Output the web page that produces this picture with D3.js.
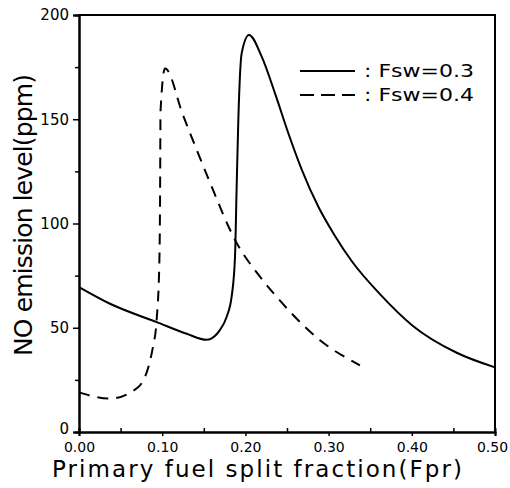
<!DOCTYPE html>
<html>
<head>
<meta charset="utf-8">
<script src="https://cdn.jsdelivr.net/npm/d3@7"></script>
<style>
  body { margin: 0; background: #fff; }
  svg { display: block; }
</style>
</head>
<body>
<div id="viz"></div>
<script>
"use strict";

// Fsw = 0.3 (solid)
const fpr03 = [0, 0.0373, 0.0934, 0.1294, 0.1534, 0.1695, 0.1775, 0.1835, 0.1875, 0.1895, 0.1915, 0.1955, 0.2043, 0.2196, 0.2356, 0.2516, 0.2676, 0.2877, 0.3077, 0.3277, 0.362, 0.401, 0.454, 0.5];
const no03  = [69.5, 61.5, 52.7, 47.1, 44.2, 49, 55.3, 65, 84, 117.6, 149.6, 181.6, 190.4, 180, 162.4, 143.3, 126, 108, 94, 82, 66, 51, 38, 31];

// Fsw = 0.4 (dashed)
const fpr04 = [0, 0.037, 0.071, 0.089, 0.0933, 0.0965, 0.0974, 0.098, 0.1034, 0.125, 0.155, 0.1893, 0.2175, 0.2416, 0.2576, 0.2897, 0.3377];
const no04  = [19, 16, 21.5, 41, 53.7, 80, 110, 154, 174.4, 152, 122, 90.8, 74.5, 63, 56, 44, 32];

const xTicks = [0, 0.1, 0.2, 0.3, 0.4, 0.5];
const xMinor = [0.05, 0.15, 0.25, 0.35, 0.45];
const yTicks = [0, 50, 100, 150, 200];
const yMinor = [25, 75, 125, 175];
const legendLabels = [": Fsw=0.3", ": Fsw=0.4"];

function initChart() {
    let width = 510;
    let height = 488;
    let left = 79, right = 495, top = 15, bottom = 432;

    let xScale = d3.scaleLinear().domain([0, 0.5]).range([left, right]);
    let yScale = d3.scaleLinear().domain([0, 200]).range([bottom, top]);

    let svg = d3.select('#viz')
                .append('svg')
                .attr('width', width)
                .attr('height', height);

    let font = "DejaVu Sans, sans-serif";

    // x axis
    let xAxis = svg.append('g')
       .attr('transform', `translate(0,${bottom})`)
       .call(d3.axisBottom(xScale).tickValues(xTicks).tickSize(4)
             .tickFormat(d3.format('.2f')).tickPadding(2));
    svg.append('g')
       .attr('transform', `translate(0,${bottom})`)
       .call(d3.axisBottom(xScale).tickValues(xMinor).tickSize(-4).tickFormat(''));

    // y axis
    let yAxis = svg.append('g')
       .attr('transform', `translate(${left},0)`)
       .call(d3.axisLeft(yScale).tickValues(yTicks).tickSize(6).tickPadding(4));
    svg.append('g')
       .attr('transform', `translate(${left},0)`)
       .call(d3.axisLeft(yScale).tickValues(yMinor).tickSize(4).tickFormat(''));

    svg.selectAll('.domain').attr('stroke', '#000').attr('stroke-width', 2);
    svg.selectAll('.tick line').attr('stroke', '#000').attr('stroke-width', 1.5);
    svg.selectAll('.tick text')
       .attr('font-family', font)
       .attr('fill', '#000');
    yAxis.selectAll('.tick text').attr('font-size', '15px');
    yAxis.selectAll('.tick text').filter(d => d === 0).attr('dy', '0.1em');
    xAxis.selectAll('.tick text')
         .attr('font-size', '14px')
         .attr('dy', '1em')
         .attr('dx', d => d === 0.5 ? -3 : 0);

    // frame top / right
    svg.append('path')
       .attr('d', `M${xScale(0)},${yScale(200)}H${xScale(0.5)}V${yScale(0)}`)
       .attr('fill', 'none')
       .attr('stroke', '#000')
       .attr('stroke-width', 2);

    let line = d3.line()
                 .x(d => xScale(d[0]))
                 .y(d => yScale(d[1]))
                 .curve(d3.curveMonotoneX);

    svg.append('path')
       .datum(d3.zip(fpr03, no03))
       .attr('d', line)
       .attr('fill', 'none')
       .attr('stroke', '#000')
       .attr('stroke-width', 2);

    svg.append('path')
       .datum(d3.zip(fpr04, no04))
       .attr('d', line)
       .attr('fill', 'none')
       .attr('stroke', '#000')
       .attr('stroke-width', 2)
       .attr('stroke-dasharray', '11,8');

    // legend
    let legend = svg.append('g');
    legendLabels.forEach((lab, i) => {
        let ly = 71 + i * 24;
        legend.append('line')
              .attr('x1', 300).attr('x2', 355)
              .attr('y1', ly).attr('y2', ly)
              .attr('stroke', '#000')
              .attr('stroke-width', 2)
              .attr('stroke-dasharray', i === 0 ? null : '14,7');
        legend.append('text')
              .attr('x', 364)
              .attr('y', ly + 6)
              .attr('font-family', font)
              .attr('font-size', '18px')
              .attr('textLength', 110)
              .attr('lengthAdjust', 'spacingAndGlyphs')
              .text(lab);
    });

    // axis titles
    svg.append('text')
       .attr('x', 257)
       .attr('y', 477)
       .attr('text-anchor', 'middle')
       .attr('font-family', font)
       .attr('font-size', '23px')
       .attr('textLength', 410)
       .text('Primary fuel split fraction(Fpr)');

    svg.append('text')
       .attr('transform', 'translate(32,215) rotate(-90)')
       .attr('text-anchor', 'middle')
       .attr('font-family', font)
       .attr('font-size', '25px')
       .attr('textLength', 282)
       .text('NO emission level(ppm)');
}

initChart();
</script>
</body>
</html>
